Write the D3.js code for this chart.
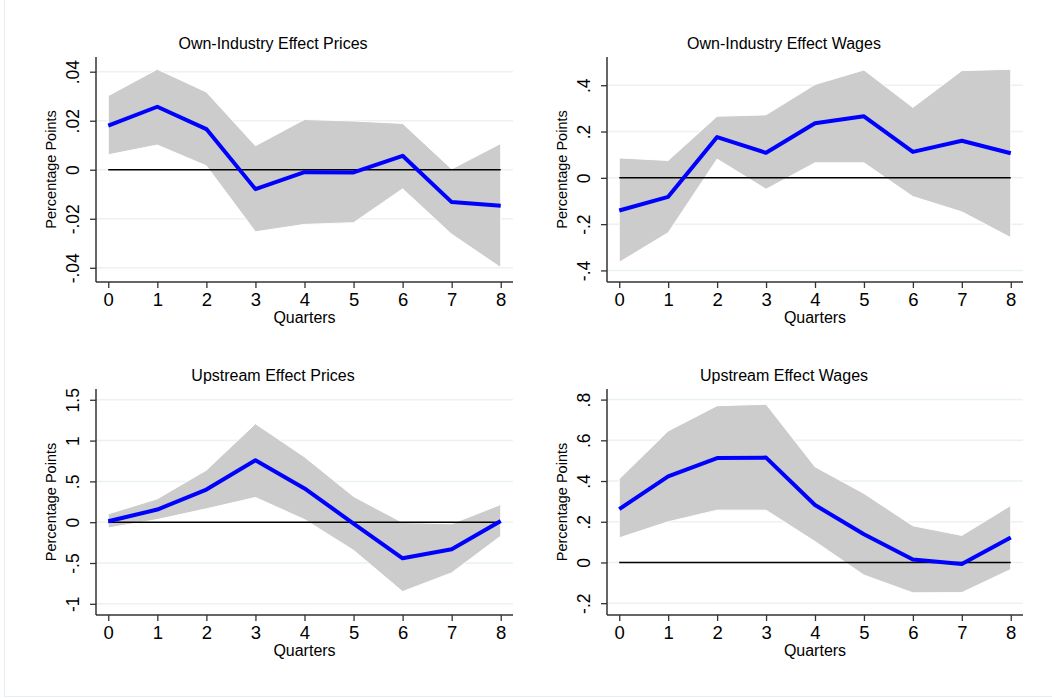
<!DOCTYPE html>
<html>
<head>
<meta charset="utf-8">
<script src="https://cdn.jsdelivr.net/npm/d3@7"></script>
<style>
  html, body { margin: 0; padding: 0; background: #ffffff; }
  svg { display: block; }
  text { font-family: "Liberation Sans", Arial, sans-serif; fill: #000; }
</style>
</head>
<body>
<svg id="chart" width="1052" height="698"></svg>
<script>
// ---------- data ----------
const quarters = [0, 1, 2, 3, 4, 5, 6, 7, 8];
const xTickLabels = ["0", "1", "2", "3", "4", "5", "6", "7", "8"];

const titles = [
  "Own-Industry Effect Prices",
  "Own-Industry Effect Wages",
  "Upstream Effect Prices",
  "Upstream Effect Wages"
];

// Own-Industry Effect Prices
const ownPricesEst   = [0.0180, 0.0257, 0.0166, -0.0079, -0.0010, -0.0011, 0.0057, -0.0132, -0.0147];
const ownPricesUpper = [0.0302, 0.0410, 0.0317, 0.0098, 0.0205, 0.0199, 0.0189, 0.0003, 0.0107];
const ownPricesLower = [0.0061, 0.0101, 0.0016, -0.0253, -0.0223, -0.0216, -0.0078, -0.0263, -0.0399];
const ownPricesTicks = [-0.04, -0.02, 0, 0.02, 0.04];
const ownPricesTickLabels = ["-.04", "-.02", "0", ".02", ".04"];

// Own-Industry Effect Wages
const ownWagesEst   = [-0.141, -0.082, 0.176, 0.108, 0.236, 0.266, 0.112, 0.160, 0.106];
const ownWagesUpper = [0.086, 0.075, 0.266, 0.272, 0.403, 0.466, 0.304, 0.463, 0.469];
const ownWagesLower = [-0.365, -0.237, 0.081, -0.049, 0.065, 0.065, -0.081, -0.147, -0.258];
const ownWagesTicks = [-0.4, -0.2, 0, 0.2, 0.4];
const ownWagesTickLabels = ["-.4", "-.2", "0", ".2", ".4"];

// Upstream Effect Prices
const upPricesEst   = [0.012, 0.155, 0.400, 0.760, 0.413, -0.016, -0.442, -0.331, 0.016];
const upPricesUpper = [0.102, 0.286, 0.638, 1.206, 0.800, 0.315, -0.004, -0.020, 0.217];
const upPricesLower = [-0.070, 0.033, 0.164, 0.303, 0.033, -0.344, -0.850, -0.620, -0.170];
const upPricesTicks = [-1, -0.5, 0, 0.5, 1, 1.5];
const upPricesTickLabels = ["-1", "-.5", "0", ".5", "1", "1.5"];

// Upstream Effect Wages
const upWagesEst   = [0.262, 0.423, 0.513, 0.515, 0.282, 0.139, 0.015, -0.008, 0.123];
const upWagesUpper = [0.410, 0.646, 0.770, 0.777, 0.470, 0.339, 0.180, 0.133, 0.280];
const upWagesLower = [0.121, 0.200, 0.257, 0.257, 0.103, -0.062, -0.149, -0.148, -0.034];
const upWagesTicks = [-0.2, 0, 0.2, 0.4, 0.6, 0.8];
const upWagesTickLabels = ["-.2", "0", ".2", ".4", ".6", ".8"];

// ---------- layout ----------
const panels = [
  { title: titles[0], est: ownPricesEst, upper: ownPricesUpper, lower: ownPricesLower,
    ticks: ownPricesTicks, tickLabels: ownPricesTickLabels,
    left: 96, right: 513, top: 57, bottom: 282, yDomain: [-0.0458, 0.0460], titleX: 273 },
  { title: titles[1], est: ownWagesEst, upper: ownWagesUpper, lower: ownWagesLower,
    ticks: ownWagesTicks, tickLabels: ownWagesTickLabels,
    left: 607, right: 1023, top: 57, bottom: 282, yDomain: [-0.450, 0.522], titleX: 784 },
  { title: titles[2], est: upPricesEst, upper: upPricesUpper, lower: upPricesLower,
    ticks: upPricesTicks, tickLabels: upPricesTickLabels,
    left: 96, right: 513, top: 389, bottom: 615, yDomain: [-1.137, 1.632], titleX: 273 },
  { title: titles[3], est: upWagesEst, upper: upWagesUpper, lower: upWagesLower,
    ticks: upWagesTicks, tickLabels: upWagesTickLabels,
    left: 607, right: 1023, top: 389, bottom: 615, yDomain: [-0.258, 0.852], titleX: 784 }
];

const svg = d3.select("#chart");

// faint outer frame
svg.append("rect")
  .attr("x", 4.5).attr("y", -2).attr("width", 1060).attr("height", 698.5)
  .attr("fill", "none").attr("stroke", "#e8eef0").attr("stroke-width", 1);

panels.forEach(p => {
  const g = svg.append("g");
  const x = d3.scaleLinear().domain([-0.25, 8.25]).range([p.left, p.right]);
  const y = d3.scaleLinear().domain(p.yDomain).range([p.bottom, p.top]);

  // grid lines
  g.append("g").selectAll("line").data(p.ticks).join("line")
    .attr("x1", p.left).attr("x2", p.right)
    .attr("y1", d => y(d)).attr("y2", d => y(d))
    .attr("stroke", "#eaf2f3").attr("stroke-width", 1.5);

  // confidence band
  const area = d3.area()
    .x((d, i) => x(quarters[i]))
    .y0((d, i) => y(p.lower[i]))
    .y1((d, i) => y(p.upper[i]));
  g.append("path").datum(quarters)
    .attr("d", area)
    .attr("fill", "#cccccc")
    .attr("stroke", "#ffffff").attr("stroke-width", 1);

  // zero line
  g.append("line")
    .attr("x1", x(quarters[0])).attr("x2", x(quarters[quarters.length - 1]))
    .attr("y1", y(0)).attr("y2", y(0))
    .attr("stroke", "#000000").attr("stroke-width", 1.5);

  // estimate line
  const line = d3.line()
    .x((d, i) => x(quarters[i]))
    .y((d, i) => y(p.est[i]));
  g.append("path").datum(quarters)
    .attr("d", line)
    .attr("fill", "none")
    .attr("stroke", "#0000ff").attr("stroke-width", 4)
    .attr("stroke-linejoin", "round");

  // x axis
  const xAxis = d3.axisBottom(x).tickValues(quarters)
    .tickFormat((d, i) => xTickLabels[i]).tickSize(6).tickSizeOuter(0).tickPadding(5);
  const gx = g.append("g").attr("transform", `translate(0,${p.bottom})`).call(xAxis);
  gx.select(".domain").attr("stroke", "#333").attr("stroke-width", 1.5)
    .attr("d", `M${p.left},0H${p.right}`);
  gx.selectAll(".tick line").attr("stroke", "#333").attr("stroke-width", 1.3);
  gx.selectAll(".tick text")
    .attr("font-size", "18.5px")
    .attr("font-family", "Liberation Sans, Arial, sans-serif")
    .attr("fill", "#000")
    .attr("dy", null).attr("y", 24);

  // y axis
  const yAxis = d3.axisLeft(y).tickValues(p.ticks)
    .tickFormat((d, i) => p.tickLabels[i]).tickSize(6).tickSizeOuter(0);
  const gy = g.append("g").attr("transform", `translate(${p.left},0)`).call(yAxis);
  gy.select(".domain").attr("stroke", "#333").attr("stroke-width", 1.5)
    .attr("d", `M0,${p.top}V${p.bottom}`);
  gy.selectAll(".tick line").attr("stroke", "#333").attr("stroke-width", 1.3);
  gy.selectAll(".tick text")
    .attr("font-size", "17.5px")
    .attr("font-family", "Liberation Sans, Arial, sans-serif")
    .attr("fill", "#000")
    .attr("x", null).attr("dy", null)
    .attr("text-anchor", "middle")
    .attr("transform", "translate(-17,0) rotate(-90)");

  // title
  g.append("text")
    .attr("x", p.titleX).attr("y", p.top - 8.5)
    .attr("text-anchor", "middle")
    .attr("font-size", "16px")
    .text(p.title);

  // x axis title
  g.append("text")
    .attr("x", (p.left + p.right) / 2).attr("y", p.bottom + 40.5)
    .attr("text-anchor", "middle")
    .attr("font-size", "16px")
    .text("Quarters");

  // y axis title
  g.append("text")
    .attr("transform", `translate(${p.left - 40},${(p.top + p.bottom) / 2}) rotate(-90)`)
    .attr("text-anchor", "middle")
    .attr("font-size", "14.5px")
    .text("Percentage Points");
});
</script>
</body>
</html>
